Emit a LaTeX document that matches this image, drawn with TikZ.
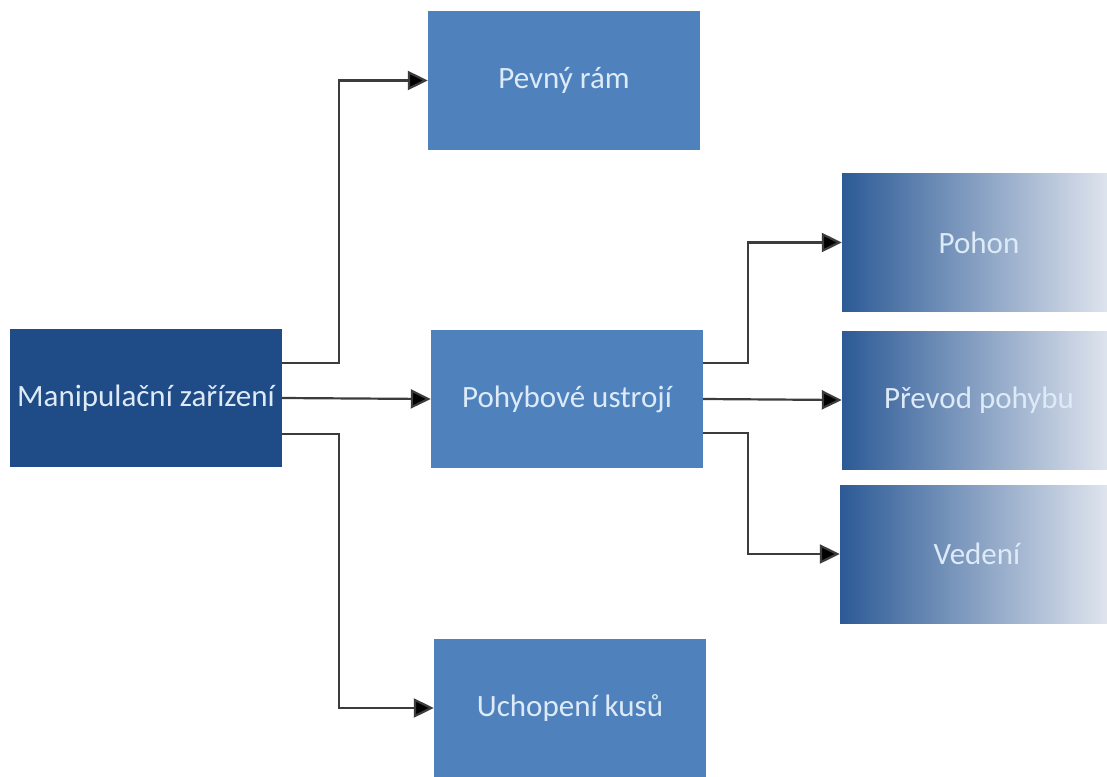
\documentclass[tikz,border=0pt]{standalone}
\usepackage{fontspec}
\setmainfont{Carlito}
\usepackage{tikz}
\usetikzlibrary{arrows.meta}
\usepackage{xcolor}
\definecolor{darkbox}{HTML}{1F4B86}
\definecolor{midbox}{HTML}{4F81BD}
\definecolor{shadeL}{HTML}{2C5A96}
\definecolor{shadeR}{HTML}{E4E8F0}
\definecolor{boxtext}{HTML}{DDEBF8}
\definecolor{linegray}{HTML}{3C3C3C}

\begin{document}
\begin{tikzpicture}[x=1pt,y=-1pt,
  box/.style={rectangle,inner sep=0pt,text=boxtext,font=\fontsize{31}{36}\selectfont},
  mainbox/.style={box,fill=darkbox,minimum width=272pt,minimum height=138pt},
  subbox/.style={box,fill=midbox,minimum width=272pt,minimum height=138pt},
  partbox/.style={box,left color=shadeL,right color=shadeR,minimum width=274pt,minimum height=138pt},
  conn/.style={draw=linegray,line width=2.2pt,-{Triangle[length=20pt,width=19pt,fill=black]}}]

\useasboundingbox (0,0) rectangle (1107,776);
\fill[white] (0,0) rectangle (1107,776);

\begin{scope}
\clip (0,0) rectangle (1107,776);
\node[mainbox] (manip) at (146,398) {Manipulační zařízení};
\node[subbox] (pevny) at (564,80.5) {Pevný rám};
\node[subbox] (pohyb) at (567,399) {Pohybové ustrojí};
\node[subbox] (uchop) at (570,708) {Uchopení kusů};
\node[partbox] (pohon) at (979,242.5) {Pohon};
\node[partbox] (prevod) at (979,400) {Převod pohybu};
\node[partbox] (vedeni) at (977,554) {Vedení};
\end{scope}

% vetve z hlavniho bloku
\draw[conn] ([yshift=35pt]manip.east) -- ++(57,0) |- (pevny.west);
\draw[conn] (manip.east) -- (pohyb.west);
\draw[conn] ([yshift=-36pt]manip.east) -- ++(57,0) |- (uchop.west);

% vetve z pohyboveho ustroji
\draw[conn] ([yshift=36pt]pohyb.east) -- ++(45,0) |- (pohon.west);
\draw[conn] (pohyb.east) -- (prevod.west);
\draw[conn] ([yshift=-34pt]pohyb.east) -- ++(45,0) |- (vedeni.west);
\end{tikzpicture}
\end{document}
